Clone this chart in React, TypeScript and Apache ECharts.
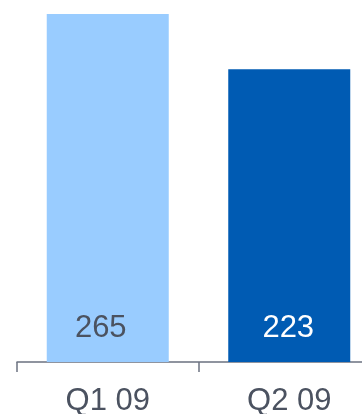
import React, { useEffect, useRef } from "react";
import * as echarts from "echarts";

const categories = ["Q1 09", "Q2 09"];
const values = [265, 223];
const barColors = ["#99CCFF", "#005BB3"];
const labelColors = ["#4B5260", "#FFFFFF"];
const labelOffsets = [[-7, 0], [-1, 0]];

export default function App() {
  const ref = useRef<HTMLDivElement>(null);
  useEffect(() => {
    if (!ref.current) return;
    const chart = echarts.init(ref.current, null, { renderer: "svg" });
    chart.setOption({
      animation: false,
      grid: { left: 17, top: 0, right: -18, bottom: 52, outerBoundsMode: "none", containLabel: false },
      xAxis: {
        type: "category",
        data: categories,
        axisLine: { show: true, lineStyle: { color: "#6B7280", width: 1.5 } },
        axisTick: { show: true, length: 10, lineStyle: { color: "#6B7280", width: 1.5 } },
        axisLabel: {
          color: "#4B5260",
          fontSize: 31,
          lineHeight: 24,
          fontFamily: "Liberation Sans, Arial, sans-serif",
          margin: 25,
        },
      },
      yAxis: {
        type: "value",
        min: 0,
        max: 275.66,
        show: false,
        splitLine: { show: false },
      },
      series: [
        {
          type: "bar",
          barWidth: 122,
          data: values.map((v, i) => ({
            value: v,
            itemStyle: { color: barColors[i] },
            label: { color: labelColors[i], offset: labelOffsets[i] },
          })),
          label: {
            show: true,
            position: "insideBottom",
            distance: 20,
            fontSize: 31,
            fontFamily: "Liberation Sans, Arial, sans-serif",
          },
        },
      ],
    });
    return () => chart.dispose();
  }, []);
  return (
    <div
      ref={ref}
      style={{ position: "fixed", left: 0, top: 0, width: 362, height: 414 }}
    />
  );
}
